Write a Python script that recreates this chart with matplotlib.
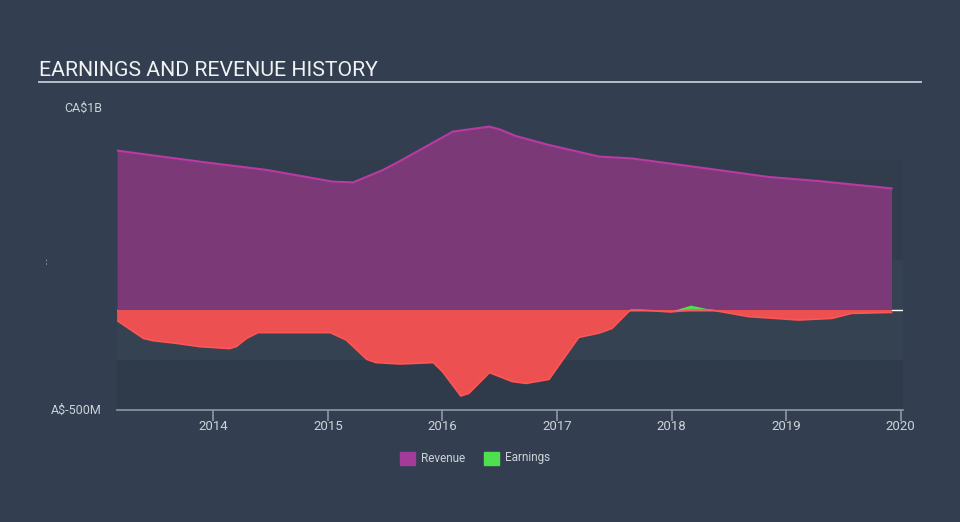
import numpy as np
import matplotlib
matplotlib.use('Agg')
import matplotlib.pyplot as plt
from matplotlib.patches import Rectangle

# revenue, CA$ millions
rev_years = [2013.16, 2013.88, 2014.47, 2015.04, 2015.22, 2015.48, 2015.63,
             2016.09, 2016.41, 2016.50, 2016.64, 2016.93, 2017.37, 2017.65,
             2018.24, 2018.85, 2019.28, 2019.92]
rev_vals = [797, 742, 700, 642, 638, 700, 745,
            892, 917, 903, 870, 825, 767, 758,
            713, 665, 645, 608]

# earnings, CA$ millions
earn_years = [2013.16, 2013.39, 2013.47, 2013.68, 2013.88, 2014.14, 2014.20,
              2014.29, 2014.39, 2014.75, 2015.02, 2015.16, 2015.34, 2015.42,
              2015.63, 2015.92, 2016.00, 2016.16, 2016.23, 2016.41, 2016.61,
              2016.73, 2016.93, 2017.08, 2017.19, 2017.37, 2017.48, 2017.64,
              2017.74, 2017.99, 2018.17, 2018.35, 2018.67, 2019.11, 2019.40,
              2019.57, 2019.92]
earn_vals = [-53, -142, -153, -167, -183, -193, -183,
             -142, -113, -113, -113, -150, -247, -263,
             -270, -263, -308, -430, -417, -313, -358,
             -367, -347, -225, -137, -115, -92, 0,
             0, -10, 22, 0, -33, -50, -42,
             -17, -12]

year_ticks = [2014, 2015, 2016, 2017, 2018, 2019, 2020]

BG = '#333f50'
TXT = '#cdd2d8'

plt.rcParams['font.family'] = ['Roboto', 'DejaVu Sans']

fig = plt.figure(figsize=(9.6, 5.22), dpi=100, facecolor=BG)
W, H = 960.0, 522.0
ax = fig.add_axes([117 / W, 1 - 410 / H, 786 / W, 302 / H])
ax.set_facecolor(BG)
ax.set_xlim(2013.16 - 0.001, 2020.02)
ax.set_ylim(-500, 1010)

# background bands
ax.axhspan(250, 750, color='#313d4d', zorder=0, lw=0)
ax.axhspan(-250, 250, color='#344252', zorder=0, lw=0)
ax.axhspan(-500, -250, color='#2f3b4a', zorder=0, lw=0)

ax.axhline(0, color='white', lw=1.0, zorder=1)

rx = np.array(rev_years)
ry = np.array(rev_vals)
ax.fill_between(rx, 0, ry, color='#7b3a77', lw=0, zorder=2)
ax.plot(rx, ry, color='#b93aa2', lw=1.5, zorder=3)

ex = np.array(earn_years)
ey = np.array(earn_vals)
ax.fill_between(ex, 0, ey, where=ey <= 0, interpolate=True,
                color='#ec5050', lw=0, zorder=4)
ax.fill_between(ex, 0, ey, where=ey >= 0, interpolate=True,
                color='#4fe04f', lw=0, zorder=4)
ax.plot(ex, np.minimum(ey, 0), color='#ff5555', lw=1.2, zorder=5)

for s in ['top', 'right', 'left']:
    ax.spines[s].set_visible(False)
ax.spines['bottom'].set_color('#8e99a5')
ax.spines['bottom'].set_linewidth(1.2)
ax.set_yticks([])
ax.set_xticks(year_ticks)
ax.set_xticklabels([str(y) for y in year_ticks])
ax.tick_params(axis='x', colors='#8e99a5', length=8, width=1.2,
               labelcolor=TXT, labelsize=9.5, pad=-1)

# title and underline
fig.text(39 / W, 1 - 76 / H, 'EARNINGS AND REVENUE HISTORY', color='#f0f2f4',
         fontsize=15.3, ha='left', va='baseline')
fig.add_artist(plt.Line2D([39 / W, 921 / W], [1 - 82 / H, 1 - 82 / H],
                          color='#b9c0c8', lw=1.4))

# y labels
fig.text(102 / W, 1 - 108 / H, 'CA$1B', color=TXT, fontsize=9,
         ha='right', va='center')
fig.text(102 / W, 1 - 410 / H, 'A$-500M', color=TXT, fontsize=9,
         ha='right', va='center')
fig.text(48 / W, 1 - 261 / H, '- -', color=TXT, fontsize=5, rotation=90,
         ha='center', va='center')

# legend
fig.add_artist(Rectangle((400 / W, 1 - 465 / H), 15 / W, 13 / H,
                         color='#a33b9b', transform=fig.transFigure))
fig.text(421 / W, 1 - 458 / H, 'Revenue', color=TXT, fontsize=8.5,
         ha='left', va='center')
fig.add_artist(Rectangle((484 / W, 1 - 465 / H), 15 / W, 13 / H,
                         color='#4fe04f', transform=fig.transFigure))
fig.text(505 / W, 1 - 458 / H, 'Earnings', color=TXT, fontsize=8.5,
         ha='left', va='center')

plt.savefig('out.png', dpi=100, facecolor=BG)
